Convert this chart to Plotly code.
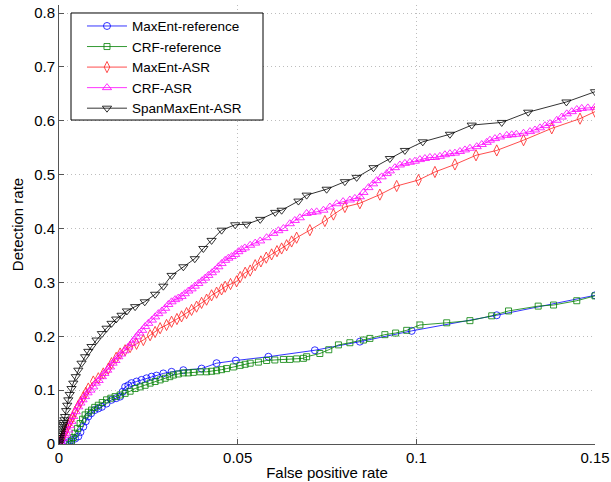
import plotly.graph_objects as go

# ---------------- data ----------------
maxent_ref_x = [0.0017, 0.0025, 0.0035, 0.0045, 0.0054, 0.006, 0.0068, 0.0075, 0.0082, 0.009,
                0.010, 0.011, 0.012, 0.0133, 0.0147, 0.016, 0.0171, 0.0178, 0.0185, 0.0194,
                0.0203, 0.0217, 0.0231, 0.0245, 0.0259, 0.0273, 0.0292, 0.0315, 0.0348, 0.0399,
                0.0441, 0.0495, 0.0586, 0.0716, 0.0842, 0.0987, 0.1225, 0.150]
maxent_ref_y = [0.0, 0.003, 0.007, 0.010, 0.014, 0.022, 0.032, 0.042, 0.051, 0.057,
                0.063, 0.066, 0.069, 0.075, 0.082, 0.085, 0.088, 0.097, 0.106, 0.109,
                0.113, 0.116, 0.119, 0.122, 0.125, 0.127, 0.131, 0.134, 0.137, 0.140,
                0.150, 0.155, 0.162, 0.174, 0.190, 0.210, 0.239, 0.276]

crf_ref_x = [0.003, 0.0035, 0.004, 0.0045, 0.0052, 0.0059, 0.0066, 0.0073, 0.0082, 0.0091,
             0.010, 0.011, 0.0121, 0.0133, 0.0145, 0.0157, 0.0171, 0.0185, 0.0199, 0.0213,
             0.0227, 0.0241, 0.0255, 0.0269, 0.0283, 0.0297, 0.031, 0.032, 0.0334, 0.0348,
             0.0362, 0.0376, 0.0395, 0.0413, 0.0427, 0.0441, 0.0455, 0.0469, 0.0488, 0.0507,
             0.0521, 0.0535, 0.0558, 0.0581, 0.0604, 0.0628, 0.0646, 0.0665, 0.0684, 0.0693,
             0.073, 0.0755, 0.0782, 0.0814, 0.0852, 0.087, 0.0912, 0.0942, 0.0973, 0.101,
             0.1085, 0.115, 0.1211, 0.1258, 0.1341, 0.1384, 0.1449, 0.150]
crf_ref_y = [0.0, 0.005, 0.012, 0.020, 0.029, 0.038, 0.046, 0.054, 0.059, 0.063,
             0.068, 0.072, 0.077, 0.082, 0.085, 0.088, 0.091, 0.094, 0.098, 0.103,
             0.106, 0.109, 0.113, 0.116, 0.119, 0.122, 0.125, 0.128, 0.130, 0.132,
             0.132, 0.133, 0.134, 0.134, 0.135, 0.136, 0.138, 0.140, 0.143, 0.146,
             0.148, 0.150, 0.152, 0.155, 0.156, 0.157, 0.157, 0.158, 0.159, 0.162,
             0.168, 0.175, 0.184, 0.188, 0.193, 0.196, 0.203, 0.206, 0.211, 0.221,
             0.225, 0.229, 0.238, 0.247, 0.256, 0.258, 0.266, 0.275]

maxent_asr_x = [0.0, 0.0004, 0.0008, 0.0012, 0.0015, 0.0019, 0.0022, 0.0026, 0.003, 0.0034,
                0.0038, 0.0045, 0.0053, 0.006, 0.0068,
                0.0075, 0.0082, 0.0096, 0.011, 0.0124, 0.0138, 0.0147, 0.016, 0.0171, 0.0185,
                0.0199, 0.0217, 0.0236, 0.0255, 0.0269, 0.0283, 0.0301, 0.0315, 0.033, 0.0343,
                0.0357, 0.0371, 0.0385, 0.0399, 0.0413, 0.0427, 0.0441, 0.0455, 0.0465, 0.048,
                0.0497, 0.0507, 0.0521, 0.0535, 0.0549, 0.0565, 0.058, 0.0595, 0.061, 0.0623,
                0.0637, 0.0651, 0.0665, 0.0702, 0.0744, 0.0768, 0.080, 0.0842, 0.0898, 0.0945,
                0.1006, 0.1052, 0.1108, 0.1167, 0.1225, 0.130, 0.1379, 0.1458, 0.150]
maxent_asr_y = [0.0, 0.005, 0.010, 0.015, 0.020, 0.025, 0.030, 0.035, 0.040, 0.045,
                0.050, 0.060, 0.070, 0.078, 0.087,
                0.095, 0.103, 0.116, 0.122, 0.131, 0.140, 0.150, 0.160, 0.168, 0.174,
                0.180, 0.186, 0.193, 0.202, 0.208, 0.215, 0.221, 0.227, 0.232, 0.237,
                0.243, 0.249, 0.255, 0.262, 0.268, 0.276, 0.281, 0.287, 0.292, 0.297,
                0.302, 0.310, 0.318, 0.322, 0.332, 0.339, 0.346, 0.352, 0.358, 0.363,
                0.369, 0.376, 0.383, 0.397, 0.414, 0.426, 0.440, 0.447, 0.463, 0.479,
                0.490, 0.505, 0.519, 0.536, 0.545, 0.564, 0.586, 0.604, 0.617]

crf_asr_x = [0.0, 0.0005, 0.001, 0.0015, 0.002, 0.0026, 0.003, 0.0035, 0.004, 0.0047,
             0.0054, 0.006, 0.0066, 0.0073, 0.008, 0.0088, 0.0096, 0.0103, 0.0111, 0.012,
             0.0127, 0.0135, 0.0143, 0.015, 0.0158, 0.0166, 0.0174, 0.0183, 0.0194, 0.0203,
             0.021, 0.0217, 0.0225, 0.0233, 0.0241, 0.025, 0.026, 0.0269, 0.0278, 0.0288,
             0.0297, 0.0306, 0.0315, 0.0325, 0.0334, 0.0343, 0.0352, 0.0362, 0.0371, 0.038,
             0.039, 0.040, 0.0409, 0.0418, 0.0428, 0.0437, 0.0446, 0.0455, 0.0465, 0.0474,
             0.0483, 0.0493, 0.0502, 0.0511, 0.052, 0.0535, 0.0549, 0.0563, 0.0581, 0.060,
             0.0614, 0.0628, 0.0646, 0.066, 0.0674, 0.0693, 0.0707, 0.0721, 0.074, 0.0758,
             0.0777, 0.0795, 0.0814, 0.0828, 0.0842, 0.0852, 0.0866, 0.0879, 0.0889, 0.0903,
             0.0917, 0.0926, 0.094, 0.0954, 0.0968, 0.0982, 0.0996, 0.101, 0.1024, 0.1038,
             0.1052, 0.1066, 0.108, 0.1094, 0.1108, 0.1122, 0.1136, 0.115, 0.1169, 0.1183,
             0.1197, 0.1206, 0.122, 0.1234, 0.1253, 0.1267, 0.128, 0.130, 0.1318, 0.1332,
             0.1346, 0.136, 0.1374, 0.1393, 0.1407, 0.1421, 0.1435, 0.1449, 0.1463, 0.148,
             0.150]
crf_asr_y = [0.0, 0.005, 0.010, 0.016, 0.020, 0.026, 0.034, 0.042, 0.051, 0.060,
             0.069, 0.076, 0.082, 0.088, 0.095, 0.100, 0.106, 0.113, 0.118, 0.125,
             0.131, 0.137, 0.143, 0.150, 0.155, 0.162, 0.167, 0.173, 0.180, 0.187,
             0.193, 0.199, 0.206, 0.211, 0.218, 0.224, 0.230, 0.236, 0.242, 0.247,
             0.252, 0.259, 0.264, 0.268, 0.271, 0.274, 0.279, 0.284, 0.288, 0.293,
             0.298, 0.303, 0.308, 0.313, 0.318, 0.323, 0.329, 0.335, 0.341, 0.345,
             0.348, 0.352, 0.357, 0.361, 0.364, 0.369, 0.373, 0.377, 0.383, 0.391,
             0.396, 0.400, 0.409, 0.415, 0.420, 0.428, 0.430, 0.431, 0.434, 0.440,
             0.446, 0.450, 0.453, 0.456, 0.459, 0.467, 0.476, 0.483, 0.489, 0.496,
             0.502, 0.507, 0.513, 0.518, 0.521, 0.523, 0.525, 0.528, 0.530, 0.532,
             0.532, 0.534, 0.537, 0.539, 0.540, 0.543, 0.546, 0.549, 0.552, 0.556,
             0.560, 0.564, 0.567, 0.570, 0.573, 0.574, 0.575, 0.577, 0.580, 0.583,
             0.587, 0.591, 0.595, 0.601, 0.607, 0.613, 0.617, 0.621, 0.623, 0.624,
             0.625]

span_asr_x = [0.0, 0.0001, 0.0002, 0.0003, 0.0004, 0.0005, 0.0006, 0.0008, 0.001, 0.0012,
              0.0013, 0.0015, 0.0017, 0.002, 0.0023, 0.0026, 0.003,
              0.0035, 0.004, 0.0047, 0.0054, 0.0063, 0.0073, 0.0082, 0.0091, 0.0105, 0.012,
              0.0133, 0.0147, 0.016, 0.0175, 0.019, 0.0213, 0.024, 0.0269, 0.0292, 0.0315,
              0.0348, 0.038, 0.0404, 0.0427, 0.0455, 0.0493, 0.0525, 0.0563, 0.0605, 0.0623,
              0.067, 0.0693, 0.0749, 0.080, 0.0833, 0.088, 0.0926, 0.0968, 0.1018, 0.1094,
              0.1155, 0.1239, 0.1313, 0.142, 0.150]
span_asr_y = [0.0, 0.004, 0.008, 0.012, 0.016, 0.020, 0.024, 0.028, 0.032, 0.036,
              0.040, 0.045, 0.051, 0.062, 0.072, 0.082, 0.092,
              0.103, 0.113, 0.125, 0.137, 0.150, 0.162, 0.172, 0.181, 0.193, 0.205,
              0.215, 0.224, 0.232, 0.239, 0.247, 0.255, 0.264, 0.278, 0.293, 0.313,
              0.329, 0.344, 0.363, 0.378, 0.397, 0.407, 0.408, 0.417, 0.430, 0.434,
              0.451, 0.462, 0.473, 0.487, 0.495, 0.513, 0.530, 0.545, 0.561, 0.575,
              0.592, 0.597, 0.616, 0.635, 0.654]

x_ticks = [0, 0.05, 0.1, 0.15]
x_tick_labels = ["0", "0.05", "0.1", "0.15"]
y_ticks = [0, 0.1, 0.2, 0.3, 0.4, 0.5, 0.6, 0.7, 0.8]
y_tick_labels = ["0", "0.1", "0.2", "0.3", "0.4", "0.5", "0.6", "0.7", "0.8"]

# ---------------- figure ----------------
FONT = "Liberation Sans, Arial, Helvetica, sans-serif"
FS = 15

series = [
    ("MaxEnt-reference", maxent_ref_x, maxent_ref_y, "#0000ff", "circle-open", 7),
    ("CRF-reference", crf_ref_x, crf_ref_y, "#008000", "square-open", 6),
    ("MaxEnt-ASR", maxent_asr_x, maxent_asr_y, "#ff2020", "diamond-tall-open", 8),
    ("CRF-ASR", crf_asr_x, crf_asr_y, "#ff00ff", "triangle-up-open", 8),
    ("SpanMaxEnt-ASR", span_asr_x, span_asr_y, "#000000", "triangle-down-open", 8),
]

fig = go.Figure()
for name, xs, ys, color, sym, size in series:
    fig.add_trace(go.Scatter(
        x=xs, y=ys, name=name, mode="lines+markers",
        line=dict(color=color, width=0.8),
        marker=dict(symbol=sym, size=size, color=color, line=dict(width=0.8, color=color)),
    ))

axis_common = dict(
    showline=True, linecolor="#555555", linewidth=1,
    ticks="inside", ticklen=5, tickcolor="#555555",
    showgrid=True, gridcolor="#bdbdbd", griddash="1px,3px", gridwidth=1,
    zeroline=False, mirror=False,
    tickfont=dict(family=FONT, size=FS, color="#000000"),
)

fig.update_layout(
    width=611, height=482,
    margin=dict(l=59, r=16, t=5, b=38, autoexpand=False),
    paper_bgcolor="white", plot_bgcolor="white",
    font=dict(family=FONT, size=FS, color="#000000"),
    xaxis=dict(range=[0, 0.15], tickvals=x_ticks, ticktext=x_tick_labels,
               title=dict(text="False positive rate", font=dict(family=FONT, size=FS), standoff=2),
               automargin=False, **axis_common),
    yaxis=dict(range=[0, 0.815], tickvals=y_ticks, ticktext=y_tick_labels,
               title=dict(text="Detection rate", font=dict(family=FONT, size=FS), standoff=6),
               automargin=False, **axis_common),
    legend=dict(x=0.0429, y=0.987, xanchor="left", yanchor="top",
                bgcolor="rgba(0,0,0,0)", borderwidth=0,
                font=dict(family=FONT, size=13.5), tracegroupgap=0, itemwidth=40),
    showlegend=True,
    shapes=[dict(type="rect", xref="paper", yref="paper",
                 x0=0.0224, x1=0.3806, y0=0.738, y1=0.9818,
                 line=dict(color="#000000", width=1), fillcolor="white", layer="above")],
)

fig.write_html("out.html", config={"displayModeBar": False},
               post_script="document.body.style.margin='0';document.body.style.padding='0';")
